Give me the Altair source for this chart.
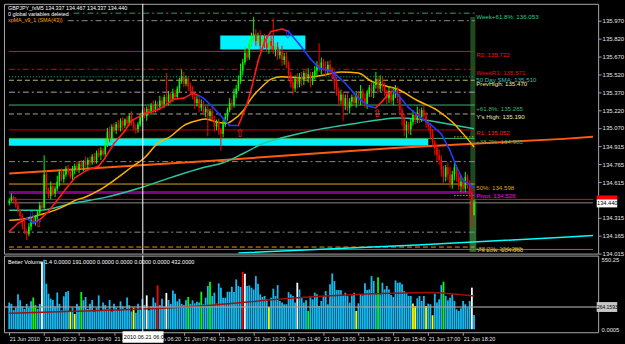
import altair as alt
import pandas as pd

# ---------------- values ----------------
symbol_header = "GBPJPY_fxM5  134.337 134.467 134.337 134.440"
script_msg = "0 global variables deleted"
ma_title = "xpMA_v9_1 (SMA(43))"
volume_title = "Better Volume 1.4 0.0000 191.0000 0.0000 0.0000 0.0000 0.0000 432.0000"
cursor_time = "2010.06.21 06:05"
cursor_bar = 61.2

x_tick_bars = [0, 16, 32, 48, 64, 80, 96, 112, 128, 144, 160, 176, 192, 208]
x_tick_labels = ["21 Jun 2010", "21 Jun 02:20", "21 Jun 03:40", "21 Jun 05:00", "21 Jun 06:20",
                 "21 Jun 07:40", "21 Jun 09:00", "21 Jun 10:20", "21 Jun 11:40", "21 Jun 13:00",
                 "21 Jun 14:20", "21 Jun 15:40", "21 Jun 17:00", "21 Jun 18:20"]
price_ticks = [135.970, 135.820, 135.670, 135.520, 135.370, 135.220, 135.070, 134.915,
               134.765, 134.615, 134.315, 134.165, 134.015]

first_open = 134.44
closes = [
    134.46, 134.49, 134.47, 134.42, 134.38, 134.33, 134.25, 134.20, 134.18,
    134.24, 134.30, 134.27, 134.33,
    134.36, 134.42, 134.40, 134.68, 134.55, 134.50, 134.58, 134.52, 134.56,
    134.62, 134.70, 134.64, 134.68, 134.73, 134.70, 134.66, 134.72, 134.75,
    134.72, 134.77, 134.74, 134.79, 134.76, 134.80, 134.78, 134.83, 134.80, 134.86, 134.84,
    134.88, 134.85, 134.93, 135.04, 134.98, 135.08, 135.05,
    135.10, 135.07, 135.13, 135.09, 135.14, 135.11, 135.17, 135.12, 135.07, 135.06,
    135.10, 135.16, 135.20, 135.17, 135.23, 135.20, 135.26, 135.22, 135.27,
    135.25, 135.30, 135.27, 135.33, 135.29, 135.35, 135.31, 135.36, 135.33,
    135.40, 135.46, 135.50, 135.44, 135.48, 135.42, 135.38,
    135.33, 135.28, 135.31, 135.24, 135.27, 135.20, 135.23, 135.17, 135.21, 135.14,
    135.08, 135.12, 135.05, 135.02, 135.10, 135.16, 135.22,
    135.28, 135.26, 135.35, 135.40, 135.47,
    135.55, 135.62, 135.70, 135.66, 135.78, 135.82, 135.86,
    135.80, 135.84, 135.76, 135.82, 135.78, 135.74, 135.80, 135.76, 135.72,
    135.75, 135.68, 135.71, 135.64, 135.67, 135.60,
    135.52, 135.45, 135.40, 135.48, 135.44, 135.50,
    135.47, 135.53, 135.49, 135.52, 135.46, 135.51,
    135.55, 135.60, 135.57, 135.62, 135.58, 135.55, 135.60, 135.56, 135.52,
    135.45, 135.38, 135.30, 135.35, 135.26, 135.32, 135.24, 135.29, 135.33,
    135.28, 135.35, 135.30, 135.38, 135.32, 135.27, 135.36, 135.41, 135.37,
    135.43, 135.48, 135.40, 135.46, 135.42, 135.37,
    135.32, 135.38, 135.30, 135.35, 135.40, 135.33,
    135.22, 135.15, 135.05, 135.10, 135.06,
    135.12, 135.18, 135.14, 135.20, 135.16, 135.22, 135.17, 135.11, 135.08,
    135.02, 134.95, 134.90, 134.84, 134.80,
    134.72, 134.66, 134.74, 134.68,
    134.60, 134.68, 134.74, 134.66, 134.58,
    134.62, 134.56, 134.66, 134.60, 134.53,
    134.337, 134.440,
]
wick_up_pips = [
    2, 3, 1, 2, 3, 1, 2, 4, 2, 3, 2, 4, 1, 2, 3, 2, 16, 3, 2, 4,
    3, 2, 5, 2, 3, 4, 2, 3, 1, 3, 2, 4, 2, 3, 1, 4, 2, 3, 2, 3,
    2, 4, 3, 2, 5, 3, 4, 2, 3, 2, 4, 2, 3, 1, 3, 2, 4, 2, 3, 2,
    3, 2, 4, 2, 3, 2, 4, 3, 2, 4, 3, 2, 20, 3, 2, 4, 3, 2, 3, 6,
    4, 3, 2, 3, 4, 2, 3, 2, 4, 3, 2, 3, 2, 4, 3, 2, 3, 2, 4, 3,
    2, 4, 3, 5, 3, 4, 6, 3, 5, 4, 3, 5, 14, 4, 3, 5, 3, 4, 6, 3,
    4, 23, 3, 4, 2, 5, 3, 4, 3, 2, 4, 3, 5, 3, 4, 2, 3, 5, 2, 3,
    4, 3, 18, 4, 3, 5, 3, 4, 2, 3, 5, 3, 4, 2, 3, 4, 3, 2, 4, 3,
    3, 5, 2, 4, 3, 2, 4, 3, 6, 3, 5, 4, 3, 2, 4, 3, 5, 3, 2, 3,
    2, 4, 3, 2, 3, 4, 2, 5, 3, 2, 4, 3, 2, 3, 4, 2, 3, 5, 4, 3,
    2, 4, 6, 3, 4, 2, 3, 5, 3, 4, 2, 3, 4, 2.7,
]
wick_dn_pips = [
    2, 1, 3, 2, 2, 4, 3, 2, 5, 2, 3, 1, 2, 3, 2, 2, 2, 3, 2, 3,
    2, 3, 2, 4, 2, 3, 2, 3, 2, 3, 4, 2, 3, 2, 3, 2, 4, 3, 2, 3,
    3, 2, 4, 2, 3, 2, 3, 4, 2, 3, 2, 3, 4, 2, 3, 2, 3, 2, 4, 3,
    2, 3, 2, 4, 3, 2, 3, 2, 4, 3, 2, 3, 2, 3, 4, 2, 3, 2, 3, 2,
    3, 2, 4, 3, 2, 5, 3, 4, 3, 2, 4, 17, 3, 2, 4, 3, 4, 14, 3, 2,
    3, 2, 4, 2, 3, 2, 3, 4, 2, 3, 2, 3, 2, 4, 3, 5, 3, 4, 3, 5,
    4, 3, 5, 4, 3, 5, 4, 3, 6, 4, 5, 3, 4, 3, 5, 4, 3, 4, 5, 3,
    3, 4, 3, 5, 3, 4, 3, 5, 4, 6, 4, 5, 3, 13, 4, 3, 5, 4, 3, 4,
    3, 4, 5, 3, 4, 3, 4, 5, 3, 4, 3, 4, 3, 5, 4, 3, 4, 3, 5, 4,
    6, 5, 7, 4, 5, 3, 4, 3, 5, 4, 3, 4, 3, 5, 4, 6, 5, 4, 6, 5,
    4, 5, 3, 4, 5, 4, 3, 5, 4, 3, 4, 5, 10, 0,
]

volumes = [
    210, 200, 150, 170, 275, 228, 180, 160, 200, 170, 220, 250, 190, 160, 200, 529, 548, 359, 280, 241,
    230, 180, 290, 200, 150, 260, 293, 301, 140, 170, 120, 200, 180, 293, 228, 254, 160, 200, 230, 140,
    170, 267, 150, 210, 190, 160, 230, 140, 200, 170, 150, 220, 180, 160, 250, 190, 140, 170, 130, 200,
    160, 240, 190, 267, 150, 180, 250, 210, 346, 190, 240, 180, 286, 230, 200, 306, 280, 220, 240, 200,
    190, 228, 254, 200, 228, 204, 217, 210, 296, 197, 249, 341, 375, 262, 288, 202, 362, 328, 249, 249,
    296, 296, 335, 293, 393, 341, 333, 453, 438, 341, 346, 328, 314, 419, 359, 275, 254, 262, 236, 176,
    249, 320, 262, 348, 223, 210, 197, 197, 293, 275, 262, 210, 367, 314, 254, 210, 228, 144, 257, 236,
    288, 275, 183, 223, 262, 301, 197, 354, 440, 380, 309, 309, 307, 262, 288, 262, 210, 267, 288, 144,
    204, 275, 267, 362, 309, 314, 419, 380, 275, 411, 275, 367, 314, 341, 314, 270, 254, 385, 367, 369,
    354, 301, 288, 262, 262, 202, 183, 244, 262, 223, 262, 183, 202, 197, 110, 280, 210, 236, 348, 375,
    262, 228, 249, 275, 223, 157, 144, 165, 223, 197, 170, 223, 328, 113,
]
volume_kinds = list(
    "cccccccccccggccwcccc" "ccccccccycyccgcccccc" "cccccccccccccccccycc" "cccwccccrcccwccccccc"
    "ccgcccccgcccgccccccc" "cccccccrwccccccccccy" "ccccccccccccwccccgcc" "cccccccccccccccccccy"
    "cccccccccgcccccccccc" "cccccyyccccyccyccccg" "ccccccccccccwc"
)
vol_ma_bars = [0, 29, 59, 89, 129, 174, 192, 213]
vol_ma_vals = [126, 141, 157, 185, 244, 283, 290, 262]
vol_level = 175
vol_box_text = "264.1593"

fast_ma_bars = [0, 4, 8, 11, 14, 18, 21, 26, 30, 35, 41, 44, 48, 53, 56, 62, 66, 71, 75, 80, 84, 87, 89, 93,
                98, 101, 105, 109, 111, 114, 117, 120, 125, 128, 133, 138, 142, 147, 149, 154, 160, 165,
                168, 171, 174, 176, 178, 183, 189, 193, 198, 202, 205, 208, 213]
fast_ma_vals = [134.20, 134.27, 134.31, 134.27, 134.30, 134.37, 134.44, 134.56, 134.65, 134.71, 134.75,
                134.82, 134.94, 135.045, 135.13, 135.19, 135.21, 135.25, 135.31, 135.32, 135.36, 135.34,
                135.32, 135.25, 135.15, 135.09, 135.09, 135.27, 135.40, 135.63, 135.795, 135.88, 135.90,
                135.88, 135.77, 135.65, 135.57, 135.55, 135.53, 135.445, 135.32, 135.25, 135.24, 135.295,
                135.36, 135.38, 135.35, 135.24, 135.15, 135.10, 135.02, 134.88, 134.74, 134.63, 134.57]
fast_ma_dir = list("rrbb" "rrrrrrrrrrrrrrrrr" "bbbbb" "rrrrrrr" "bbbbbbbbb" "rrr" "bbbbbbbbbb")

slow_ma_bars = [0, 8, 14, 21, 26, 30, 35, 41, 48, 56, 62, 68, 74, 80, 86, 90, 95, 100, 102, 107, 111, 116,
                120, 125, 134, 143, 152, 160, 166, 173, 178, 187, 196, 203, 208, 213]
slow_ma_vals = [134.295, 134.31, 134.34, 134.38, 134.42, 134.46, 134.49, 134.545, 134.63, 134.74, 134.82,
                134.94, 135.0, 135.09, 135.13, 135.145, 135.12, 135.11, 135.13, 135.21, 135.32, 135.42,
                135.48, 135.50, 135.49, 135.51, 135.54, 135.53, 135.46, 135.42, 135.395, 135.30, 135.22,
                135.12, 135.02, 134.91]

long_ma_bars = [0, 14, 29, 44, 59, 74, 89, 98, 107, 116, 125, 134, 143, 151, 160, 169, 178, 187, 201, 213]
long_ma_vals = [134.378, 134.378, 134.437, 134.487, 134.562, 134.653, 134.737, 134.778, 134.853, 134.937,
                134.987, 135.028, 135.062, 135.087, 135.112, 135.137, 135.153, 135.145, 135.103, 135.062]

trend_bars = [0, 93, 178, 187, 254, 267.5]
trend_vals = [134.687, 134.795, 134.903, 134.912, 134.978, 134.995]
cyan_bars = [105, 187, 254, 267.5]
cyan_vals = [134.02, 134.087, 134.153, 134.167]

zone_bar_from = [-0.13, 96.7]
zone_bar_to = [192.0, 135.7]
zone_low = [134.920, 135.728]
zone_high = [134.978, 135.845]

session_bar_from = [211.3, 210.9]
session_bar_to = [213.6, 214.0]
session_low = [134.03, 134.03]
session_high = [136.00, 134.46]

level_prices = [136.033, 135.970, 135.712, 135.562, 135.499, 135.470, 135.370, 135.262, 135.187, 135.053,
                134.982, 134.787, 134.599, 134.528, 134.195, 134.070, 134.050, 134.470, 134.441, 134.995,
                134.503]
level_from = [29.5, 26.8, -0.13, -0.13, -0.13, -0.13, -0.13, -0.13, -0.13, -0.13,
              -0.13, -0.13, -0.13, -0.13, -0.13, -0.13, -0.13, -0.13, -0.13, 204, 204]
level_to = [213.3] * 16 + [267.5, 267.5, 267.5, 213.3, 213.3]
level_labels = ["Week+61.8%: 136.053", "", "R2: 135.722", "WeekR1: 135.571", "50 Day SMA: 135.510",
                "PrevHigh: 135.470", "", "+61.8%: 135.265", "Y's High: 135.190", "R1: 135.052",
                "+38.2%: 134.983", "", "50%: 134.598", "Pivot: 134.526", "", "-38.2%: 134.083",
                "Y's Low: 134.063", "", "", "", ""]
# styles
level_colors = ["#2E9B6A", "#8A8A8A", "#FF0000", "#E00000", "#20B2AA", "#BDB76B", "#B89AB8", "#3CB371",
                "#A9A98A", "#D00000", "#3CB371", "#8A8A8A", "#DAA520", "#800080", "#8A8A8A", "#FF8C00",
                "#808000", "#FF0000", "#8A8A8A", "#FFFF00", "#FFFF00"]
level_dash = ["dashdot", "dashdot", "solid", "dashdot", "dot", "dash", "dashdot", "solid", "dash", "solid",
              "solid", "dashdot", "solid", "solid", "dashdot", "dash", "solid", "solid", "solid", "dot", "dot"]
level_width = [1, 1, 1, 1, 1, 1, 1, 1, 1, 1, 1, 1, 1, 3, 1, 1, 1, 1, 1, 1, 1]
label_colors = ["#2ECC8A", "", "#FF1010", "#E01010", "#20C0B0", "#EEE8AA", "", "#3CB371", "#EEE8AA", "#FF2020",
                "#3CB371", "", "#DAA520", "#FF00FF", "", "#DAA520", "#D8C878", "", "", "", ""]
label_dy = [3.5, 0, 3.5, 3.5, 3, 3.5, 0, 3.5, 3.5, 3.5, 3.5, 0, 3.5, 3.5, 0, 1.5, 1, 0, 0, 0, 0]

arrow_bars = [13.3, 105.7, 168.5, 10.2, 127.7, 149.2]
arrow_vals = [134.262, 135.02, 135.187, 134.328, 135.853, 135.495]
arrow_glyphs = ["⇧", "⇧", "⇧", "⇩", "⇩", "⇩"]
arrow_colors = ["#FF2020", "#FF2020", "#FF2020", "#3050FF", "#3050FF", "#3050FF"]

bid_price_text = "134.440"

# ---------------- build tables ----------------
n = len(closes)
assert len(wick_up_pips) == n and len(wick_dn_pips) == n and len(volumes) == n and len(volume_kinds) == n
assert len(fast_ma_bars) == len(fast_ma_vals) == len(fast_ma_dir)
assert len(slow_ma_bars) == len(slow_ma_vals)
assert len(long_ma_bars) == len(long_ma_vals)
assert len(level_prices) == len(level_from) == len(level_to) == len(level_labels) == len(level_colors) == len(level_dash)

opens = [first_open] + closes[:-1]
candles = pd.DataFrame({
    "i": list(range(n)),
    "open": opens,
    "close": closes,
    "high": [max(o, c) + u / 100 for o, c, u in zip(opens, closes, wick_up_pips)],
    "low": [min(o, c) - d / 100 for o, c, d in zip(opens, closes, wick_dn_pips)],
})
candles["col"] = ["#00FF00" if c >= o else "#FF0000" for o, c in zip(opens, closes)]

kind_color = {"c": "#16BAF2", "g": "#00FF00", "w": "#FFFFFF", "y": "#FFFF00", "r": "#FF0000"}
vol_df = pd.DataFrame({"i": list(range(n)), "v": volumes, "col": [kind_color[k] for k in volume_kinds]})

fast_seg = pd.DataFrame({
    "i": fast_ma_bars[:-1], "i2": fast_ma_bars[1:],
    "p": fast_ma_vals[:-1], "p2": fast_ma_vals[1:],
    "col": ["#FF1A1A" if d == "r" else "#1E3CFF" for d in fast_ma_dir[:-1]],
})

levels = pd.DataFrame({"p": level_prices, "i0": level_from, "i1": level_to, "col": level_colors,
                       "dash": level_dash, "w": level_width, "label": level_labels, "lcol": label_colors,
                       "dy": label_dy})

# ---------------- scales / axes ----------------
xs = alt.Scale(domain=[-0.13, 267.57], nice=False, zero=False)
ys = alt.Scale(domain=[134.015, 136.1117], nice=False, zero=False)
vs = alt.Scale(domain=[-24, 581], nice=False, zero=False)

price_axis = alt.Axis(orient="right", values=price_ticks, labelExpr="format(datum.value, '.3f')",
                      tickSize=3, labelPadding=1, title=None, labelOverlap=False, labelBound=False,
                      labelFontSize=6, grid=False, domain=False)
vol_axis = alt.Axis(orient="right", values=[550.25, 0], labelExpr="datum.value > 100 ? '550.25' : '0.0005'",
                    tickSize=0, labelPadding=3, title=None, labelOverlap=False, labelFontSize=5.8,
                    grid=False, domain=False)
lab_js = "[" + ",".join("'" + s + "'" for s in x_tick_labels) + "][round(datum.value/16)]"
time_axis = alt.Axis(orient="bottom", values=x_tick_bars, labelExpr=lab_js, labelAlign="left",
                     labelPadding=1, tickSize=3, labelOverlap=False, labelBound=False, labelFontSize=5.5,
                     title=None, grid=False, domain=False, labelBaseline="top")


def XM(f="i"):
    return alt.X(f + ":Q", scale=xs, axis=None)


def YM(f="p"):
    return alt.Y(f + ":Q", scale=ys, axis=price_axis)


def XV(f="i"):
    return alt.X(f + ":Q", scale=xs, axis=time_axis)


def YV(f="v"):
    return alt.Y(f + ":Q", scale=vs, axis=vol_axis)


# ---------------- main panel ----------------
zones = alt.Chart(pd.DataFrame({"i0": zone_bar_from, "i1": zone_bar_to, "lo": zone_low, "hi": zone_high})).mark_rect(
    color="#00F0FF").encode(x=XM("i0"), x2="i1:Q", y=YM("lo"), y2="hi:Q")

session = alt.Chart(pd.DataFrame({"i0": session_bar_from, "i1": session_bar_to, "lo": session_low,
                                  "hi": session_high, "col": ["#1F4A1F", "#2E6A2E"]})).mark_rect().encode(
    x=XM("i0"), x2="i1:Q", y=YM("lo"), y2="hi:Q", color=alt.Color("col:N", scale=None))

dash_map = {"solid": [1, 0], "dash": [5, 3], "dashdot": [6, 3, 2, 3], "dot": [1, 2]}
level_layers = []
for key, pattern in dash_map.items():
    sub = levels[levels["dash"] == key]
    if len(sub) == 0:
        continue
    mk = alt.Chart(sub).mark_rule() if key == "solid" else alt.Chart(sub).mark_rule(strokeDash=pattern)
    level_layers.append(mk.encode(x=XM("i0"), x2="i1:Q", y=YM("p"),
                                  color=alt.Color("col:N", scale=None),
                                  strokeWidth=alt.StrokeWidth("w:Q", scale=None)))

lab_df = levels[levels["label"] != ""].copy()
lab_df["li"] = 214.0
level_text_layers = []
for dy_val in sorted(lab_df["dy"].unique()):
    sub = lab_df[lab_df["dy"] == dy_val]
    level_text_layers.append(
        alt.Chart(sub).mark_text(align="left", baseline="middle", dy=float(dy_val), fontSize=6.2).encode(
            x=XM("li"), y=YM("p"), text="label:N", color=alt.Color("lcol:N", scale=None)))

trend = alt.Chart(pd.DataFrame({"i": trend_bars, "p": trend_vals})).mark_line(
    color="#FF5A10", strokeWidth=2).encode(x=XM(), y=YM())
cyan = alt.Chart(pd.DataFrame({"i": cyan_bars, "p": cyan_vals})).mark_line(
    color="#00FFFF", strokeWidth=1.5, clip=True).encode(x=XM(), y=YM())
long_ma = alt.Chart(pd.DataFrame({"i": long_ma_bars, "p": long_ma_vals})).mark_line(
    color="#2CC6A0", strokeWidth=1.5, interpolate="monotone").encode(x=XM(), y=YM())
slow_ma = alt.Chart(pd.DataFrame({"i": slow_ma_bars, "p": slow_ma_vals})).mark_line(
    color="#FFB000", strokeWidth=1.5, interpolate="monotone").encode(x=XM(), y=YM())

wicks = alt.Chart(candles).mark_rule(strokeWidth=1).encode(
    x=XM(), y=YM("low"), y2="high:Q", color=alt.Color("col:N", scale=None))
bodies = alt.Chart(candles).mark_bar(size=1.6).encode(
    x=XM(), y=YM("open"), y2="close:Q", color=alt.Color("col:N", scale=None))

fast = alt.Chart(fast_seg).mark_rule(strokeWidth=1.6, strokeCap="round").encode(
    x=XM(), x2="i2:Q", y=YM("p"), y2="p2:Q", color=alt.Color("col:N", scale=None))

arrows = alt.Chart(pd.DataFrame({"i": arrow_bars, "p": arrow_vals, "g": arrow_glyphs, "col": arrow_colors})).mark_text(
    font="DejaVu Sans", fontSize=11, baseline="middle").encode(
    x=XM(), y=YM(), text="g:N", color=alt.Color("col:N", scale=None))

cross_main = alt.Chart(pd.DataFrame({"i": [cursor_bar]})).mark_rule(color="#FFFFFF", strokeWidth=1).encode(x=XM())

head_df = pd.DataFrame({"t": [symbol_header, script_msg, ma_title],
                        "yy": [4, 10.5, 16], "col": ["#FFFFFF", "#FFFFFF", "#FFA500"]})
header = alt.Chart(head_df).mark_text(align="left", baseline="middle", fontSize=5.4).encode(
    x=alt.value(4), y=alt.Y("yy:Q", scale=None), text="t:N", color=alt.Color("col:N", scale=None))

box_df = pd.DataFrame({"i0": [269.2, 269.2], "i1": [278.6, 278.6], "lo": [134.47, 134.403],
                       "hi": [134.503, 134.47], "col": ["#FF0000", "#FFFFFF"]})
price_box = alt.Chart(box_df).mark_rect(clip=False).encode(
    x=XM("i0"), x2="i1:Q", y=YM("lo"), y2="hi:Q", color=alt.Color("col:N", scale=None))
price_box_text = alt.Chart(pd.DataFrame({"i": [269.35], "p": [134.437], "t": [bid_price_text]})).mark_text(
    align="left", baseline="middle", fontSize=5.7, color="#000000", clip=False).encode(x=XM(), y=YM(), text="t:N")

main = alt.layer(
    zones, session, *level_layers, trend, cyan, long_ma, slow_ma, wicks, bodies, fast, arrows,
    *level_text_layers, header, cross_main, price_box, price_box_text
).properties(width=597, height=251)

# ---------------- volume panel ----------------
vbars = alt.Chart(vol_df).mark_bar(size=1.8).encode(x=XV(), y=YV(), y2=alt.datum(0),
                                                     color=alt.Color("col:N", scale=None))
vma = alt.Chart(pd.DataFrame({"i": vol_ma_bars, "v": vol_ma_vals})).mark_line(
    color="#A01010", strokeWidth=1.5, interpolate="monotone").encode(x=XV(), y=YV())
vlevel = alt.Chart(pd.DataFrame({"v": [vol_level]})).mark_rule(color="#A0A0A0", strokeWidth=1.5, opacity=0.8).encode(
    y=YV())
cross_vol = alt.Chart(pd.DataFrame({"i": [cursor_bar]})).mark_rule(color="#FFFFFF", strokeWidth=1).encode(x=XV())
vtitle = alt.Chart(pd.DataFrame({"t": [volume_title]})).mark_text(
    align="left", baseline="middle", fontSize=5.6, color="#FFFFFF").encode(x=alt.value(4), y=alt.value(6), text="t:N")

vbox = alt.Chart(pd.DataFrame({"i0": [269.2], "i1": [278.6], "lo": [136], "hi": [214]})).mark_rect(
    color="#C8C8C8", clip=False).encode(x=XV("i0"), x2="i1:Q", y=YV("lo"), y2="hi:Q")
vbox_text = alt.Chart(pd.DataFrame({"i": [269.3], "v": [175], "t": [vol_box_text]})).mark_text(
    align="left", baseline="middle", fontSize=5.0, color="#000000", clip=False).encode(x=XV(), y=YV(), text="t:N")

tbox = alt.Chart(pd.DataFrame({"i0": [51.9], "i1": [70.7], "lo": [-108], "hi": [-16]})).mark_rect(
    color="#FFFFFF", clip=False).encode(x=XV("i0"), x2="i1:Q", y=YV("lo"), y2="hi:Q")
tbox_text = alt.Chart(pd.DataFrame({"i": [52.5], "v": [-62], "t": [cursor_time]})).mark_text(
    align="left", baseline="middle", fontSize=5.6, color="#000000", clip=False).encode(x=XV(), y=YV(), text="t:N")

vol = alt.layer(vbars, vma, vlevel, cross_vol, vtitle, vbox, vbox_text, tbox, tbox_text).properties(
    width=597, height=77)

chart = alt.vconcat(main, vol, spacing=2, bounds="flush").properties(
    padding={"left": 2, "top": 2, "right": 0, "bottom": 0}
).configure(
    background="#000000", font="Liberation Sans"
).configure_view(
    stroke="#A8A8A8", strokeWidth=1, fill="#000000"
).configure_axis(
    labelColor="#E6E6E6", tickColor="#A0A0A0", labelFont="Liberation Sans"
)

chart.save("out.html", embed_options={"renderer": "svg", "actions": False})
